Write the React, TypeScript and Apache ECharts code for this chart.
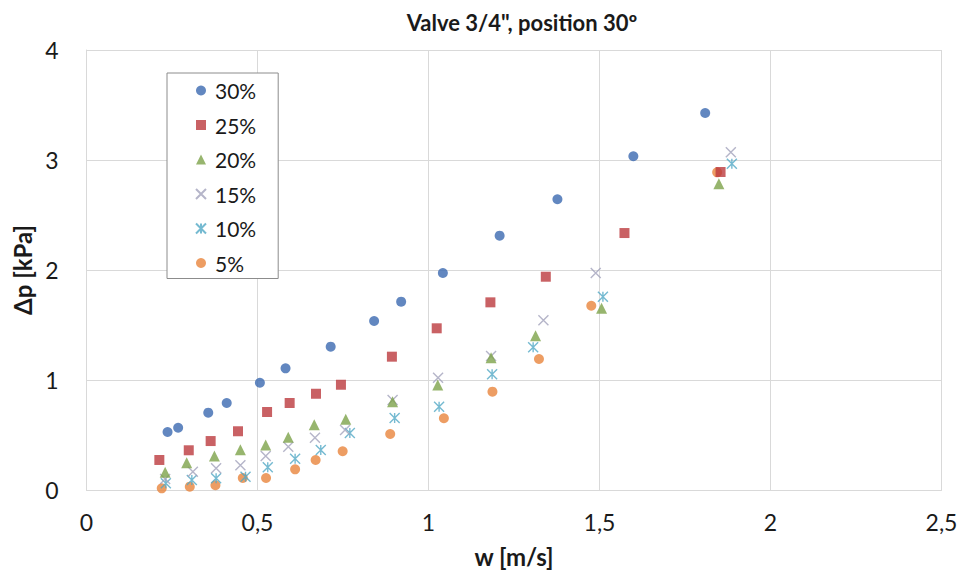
import React, { useEffect, useRef } from "react";
import * as echarts from "echarts";

const seriesNames = ["30%", "25%", "20%", "15%", "10%", "5%"];

const w30 = [0.237, 0.268, 0.356, 0.41, 0.507, 0.582, 0.714, 0.841, 0.92, 1.042, 1.208, 1.377, 1.599, 1.809];
const p30 = [0.527, 0.566, 0.703, 0.791, 0.975, 1.106, 1.303, 1.536, 1.712, 1.973, 2.312, 2.643, 3.034, 3.427];

const w25 = [0.213, 0.299, 0.363, 0.443, 0.528, 0.594, 0.671, 0.744, 0.893, 1.024, 1.181, 1.343, 1.573, 1.854];
const p25 = [0.273, 0.361, 0.445, 0.534, 0.709, 0.791, 0.875, 0.957, 1.212, 1.47, 1.706, 1.939, 2.336, 2.891];

const w20 = [0.23, 0.293, 0.374, 0.45, 0.524, 0.59, 0.666, 0.758, 0.895, 1.027, 1.183, 1.313, 1.506, 1.849];
const p20 = [0.161, 0.248, 0.309, 0.366, 0.409, 0.479, 0.594, 0.643, 0.803, 0.955, 1.203, 1.403, 1.652, 2.785];

const w15 = [0.23, 0.311, 0.379, 0.45, 0.524, 0.59, 0.668, 0.756, 0.895, 1.028, 1.183, 1.336, 1.489, 1.884];
const p15 = [0.1, 0.166, 0.197, 0.225, 0.309, 0.394, 0.475, 0.545, 0.818, 1.021, 1.218, 1.543, 1.973, 3.07];

const w10 = [0.232, 0.308, 0.379, 0.465, 0.53, 0.61, 0.685, 0.77, 0.901, 1.031, 1.186, 1.306, 1.51, 1.887];
const p10 = [0.061, 0.091, 0.106, 0.121, 0.206, 0.285, 0.364, 0.518, 0.655, 0.757, 1.052, 1.297, 1.757, 2.966];

const w05 = [0.22, 0.302, 0.377, 0.457, 0.525, 0.61, 0.67, 0.749, 0.888, 1.045, 1.187, 1.323, 1.476, 1.844];
const p05 = [0.015, 0.03, 0.043, 0.109, 0.109, 0.188, 0.273, 0.352, 0.509, 0.652, 0.894, 1.191, 1.675, 2.888];

const xTicks = ["0", "0,5", "1", "1,5", "2", "2,5"];

const FONT = "Lato, 'Open Sans', sans-serif";

const pair = (xs: number[], ys: number[]) => xs.map((x, i) => [x, ys[i]]);

export default function App() {
  const ref = useRef<HTMLDivElement>(null);
  useEffect(() => {
    if (!ref.current) return;
    const chart = echarts.init(ref.current, null, { renderer: "svg" });
    const xPath = "path://M0,0L10,10M10,0L0,10";
    const starPath = "path://M0,0L10,10M10,0L0,10M5,0L5,10";
    const defs = [
      { w: w30, p: p30, symbol: "circle", size: 10, style: { color: "#3B69B0" } },
      { w: w25, p: p25, symbol: "rect", size: 10, style: { color: "#BB3A3D" } },
      { w: w20, p: p20, symbol: "triangle", size: 11, style: { color: "#7DA34A" } },
      { w: w15, p: p15, symbol: xPath, size: 10, style: { color: "rgba(0,0,0,0)", borderColor: "#A3A3BC", borderWidth: 1.4 } },
      { w: w10, p: p10, symbol: starPath, size: 10, style: { color: "rgba(0,0,0,0)", borderColor: "#52A9C6", borderWidth: 1.4 } },
      { w: w05, p: p05, symbol: "circle", size: 10, style: { color: "#E8843C" } },
    ];
    chart.setOption({
      animation: false,
      backgroundColor: "#ffffff",
      title: {
        text: "Valve 3/4\", position 30º",
        left: 517,
        textAlign: "center",
        top: 6,
        textStyle: { fontFamily: FONT, fontSize: 22, fontWeight: "bold", color: "#1a1a1a" },
      },
      grid: { left: 86.5, right: 21.5, top: 50, bottom: 85 },
      legend: {
        orient: "vertical",
        left: 167,
        top: 73,
        padding: [7, 22, 5, 28],
        itemGap: 13.5,
        itemWidth: 10,
        itemHeight: 10,
        backgroundColor: "#ffffff",
        borderColor: "#8c8c8c",
        borderWidth: 1,
        borderRadius: 0,
        textStyle: { fontFamily: FONT, fontSize: 21, lineHeight: 20, color: "#1a1a1a", padding: [0, 0, 0, 4] },
        data: seriesNames,
      },
      xAxis: {
        type: "value",
        min: 0,
        max: 2.5,
        interval: 0.5,
        name: "w [m/s]",
        nameLocation: "middle",
        nameGap: 54,
        nameTextStyle: { fontFamily: FONT, fontSize: 24, fontWeight: "bold", color: "#1a1a1a" },
        axisLine: { show: true, lineStyle: { color: "#D9D9D9" } },
        axisTick: { show: false },
        axisLabel: {
          fontFamily: FONT,
          fontSize: 23,
          color: "#1a1a1a",
          margin: 20,
          formatter: (v: number) => xTicks[Math.round(v / 0.5)] ?? String(v),
        },
        splitLine: { show: true, lineStyle: { color: "#D9D9D9" } },
      },
      yAxis: {
        type: "value",
        min: 0,
        max: 4,
        interval: 1,
        name: "Δp [kPa]",
        nameLocation: "middle",
        nameGap: 44,
        nameTextStyle: { fontFamily: FONT, fontSize: 24, fontWeight: "bold", color: "#1a1a1a" },
        axisLine: { show: true, lineStyle: { color: "#D9D9D9" } },
        axisTick: { show: false },
        axisLabel: { fontFamily: FONT, fontSize: 23, color: "#1a1a1a", margin: 28 },
        splitLine: { show: true, lineStyle: { color: "#D9D9D9" } },
      },
      series: defs.map((d, i) => ({
        name: seriesNames[i],
        type: "scatter",
        symbol: d.symbol,
        symbolSize: d.size,
        itemStyle: d.style,
        data: pair(d.w, d.p),
        z: 10 - i,
      })),
    });
    return () => chart.dispose();
  }, []);
  return <div ref={ref} style={{ position: "fixed", left: 0, top: 0, width: 963, height: 575 }} />;
}
